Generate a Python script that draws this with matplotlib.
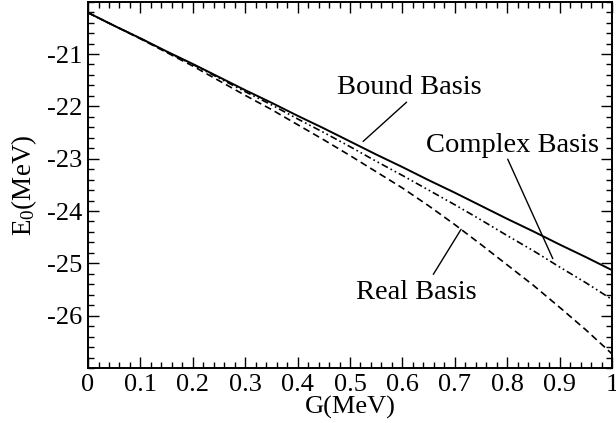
import numpy as np
import matplotlib
matplotlib.use('Agg')
import matplotlib.pyplot as plt
from matplotlib.ticker import MultipleLocator

plt.rcParams['font.family'] = 'Liberation Serif'
plt.rcParams['mathtext.fontset'] = 'custom'
plt.rcParams['mathtext.rm'] = 'Liberation Serif'
plt.rcParams['mathtext.it'] = 'Liberation Serif:italic'
plt.rcParams['axes.unicode_minus'] = False
plt.rcParams['lines.scale_dashes'] = False

# coupling strength G (MeV)
G = [0.00, 0.05, 0.10, 0.15, 0.20, 0.25, 0.30, 0.35, 0.40, 0.45, 0.50,
     0.55, 0.60, 0.65, 0.70, 0.75, 0.80, 0.85, 0.90, 0.95, 1.00]

# ground state energy E0 (MeV) for each basis
bound_E = [-20.21, -20.46, -20.70, -20.95, -21.19, -21.44, -21.69, -21.93, -22.18, -22.42, -22.67,
           -22.92, -23.16, -23.41, -23.65, -23.90, -24.15, -24.39, -24.64, -24.88, -25.13]
complex_E = [-20.21, -20.46, -20.70, -20.96, -21.20, -21.46, -21.72, -21.97, -22.24, -22.50, -22.77,
             -23.05, -23.32, -23.60, -23.88, -24.17, -24.47, -24.76, -25.07, -25.37, -25.69]
real_E = [-20.21, -20.46, -20.71, -20.97, -21.23, -21.51, -21.79, -22.06, -22.35, -22.64, -22.94,
          -23.25, -23.56, -23.90, -24.26, -24.64, -25.03, -25.42, -25.84, -26.27, -26.73]

xticks = [0, 0.1, 0.2, 0.3, 0.4, 0.5, 0.6, 0.7, 0.8, 0.9, 1]
xticklabels = ['0', '0.1', '0.2', '0.3', '0.4', '0.5', '0.6', '0.7', '0.8', '0.9', '1']
yticks = [-26, -25, -24, -23, -22, -21]
yticklabels = ['-26', '-25', '-24', '-23', '-22', '-21']

fig = plt.figure(figsize=(6.16, 4.23), dpi=100)
ax = fig.add_axes([0.1429, 0.13, 0.8506, 0.866])

ax.plot(G, bound_E, color='black', lw=1.4)
ax.plot(G, complex_E, color='black', lw=1.2, dashes=(5, 2.2, 1.2, 2.2, 1.2, 2.2))
ax.plot(G, real_E, color='black', lw=1.2, dashes=(5, 3))

ax.set_xlim(0, 1)
ax.set_ylim(-27, -20)
ax.set_xticks(xticks)
ax.set_xticklabels(xticklabels)
ax.set_yticks(yticks)
ax.set_yticklabels(yticklabels)
ax.xaxis.set_minor_locator(MultipleLocator(0.02))
ax.yaxis.set_minor_locator(MultipleLocator(0.2))
ax.tick_params(which='both', direction='in', top=True, right=True, width=1.0)
ax.tick_params(which='major', length=8, labelsize=19, pad=4)
ax.tick_params(which='minor', length=4.3)
for s in ax.spines.values():
    s.set_linewidth(1.4)

ax.set_xlabel('G(MeV)', fontsize=19, labelpad=0)
ax.set_ylabel('E$_0$(MeV)', fontsize=19.5, labelpad=6)

# labels with pointer lines
lbl = dict(fontsize=20.5, ha='center', va='baseline')
ptr = dict(arrowstyle='-', color='black', lw=1.0, shrinkA=0, shrinkB=0)
ax.text(0.614, -21.77, 'Bound Basis', **lbl)
ax.annotate('', xy=(0.525, -22.67), xytext=(0.608, -21.92), arrowprops=ptr)
ax.text(0.811, -22.88, 'Complex Basis', **lbl)
ax.annotate('', xy=(0.887, -24.91), xytext=(0.801, -23.01), arrowprops=ptr)
ax.text(0.627, -25.69, 'Real Basis', **lbl)
ax.annotate('', xy=(0.712, -24.35), xytext=(0.659, -25.21), arrowprops=ptr)

fig.savefig('out.png', dpi=100)
